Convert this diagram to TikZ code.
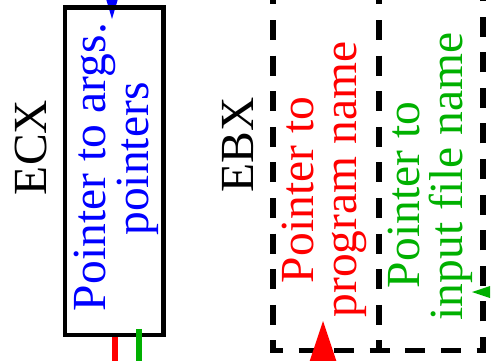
\documentclass[tikz,border=0pt]{standalone}
\usepackage{fontspec}
\setmainfont{Liberation Serif}
\usetikzlibrary{arrows.meta}
\definecolor{fgreen}{RGB}{0,176,0}
\begin{document}
\begin{tikzpicture}[x=1pt,y=-1pt,
  lbl/.style={rotate=90, inner sep=0pt, font=\fontsize{47.5}{43}\selectfont},
  regbox/.style={draw, line width=4.5pt, minimum width=98.5pt, minimum height=327.5pt, inner sep=0pt},
  dline/.style={line width=5.5pt, dash pattern=on 20pt off 15.6pt},
  conn/.style={line width=6pt},
]
\path[use as bounding box, clip] (0,0) rectangle (492,360);

% incoming blue arrow (drawn below the box border)
\coordinate (bluefrom) at (112,-60);
\coordinate (bluein) at (112,19);
\draw[blue, conn, -{Triangle[length=32pt,width=19pt,line width=0pt]}] (bluefrom) -- (bluein);

% ECX register box
\node[regbox] (ecxbox) at (114.25,171.25) {};

% EBX dashed boxes
\draw[dline] (273,-15.6) -- (273,350.5) -- (483,350.5) -- (483,-15.6);
\draw[dline] (379,-15.6) -- (379,350.5);

% labels
\node[lbl] (ecx) at (31.3,147.5) {ECX};
\node[lbl] (ebx) at (238.5,145) {EBX};
\node[lbl, align=center, text=blue, font=\fontsize{47.5}{38.4}\selectfont] (argtxt) at (116.5,167)
  {Pointer to args.\\\mbox{\kern16pt pointers}};
\node[lbl, align=center, text=red] (prgtxt) at (324,179.5)
  {\mbox{Pointer to\kern21pt}\\program name};
\node[lbl, align=center, text=fgreen] (inptxt) at (430.5,176.5)
  {\mbox{Pointer to\kern37pt}\\input file name};

% connectors
\coordinate (prgin) at (323,321);
\draw[red, conn, -{Triangle[length=45pt,width=30pt,line width=0pt]}]
  ([xshift=0.75pt]ecxbox.south) -- ++(0,80) -| (prgin);
\coordinate (grnout) at (139,420);
\draw[fgreen, conn] ([xshift=24.75pt,yshift=8.5pt]ecxbox.south) -- (grnout);
\coordinate (inpfrom) at (490,292);
\coordinate (inpin) at (472,292);
\draw[fgreen, conn, -{Triangle[length=18pt,width=12pt,line width=0pt]}] (inpfrom) -- (inpin);
\end{tikzpicture}
\end{document}
